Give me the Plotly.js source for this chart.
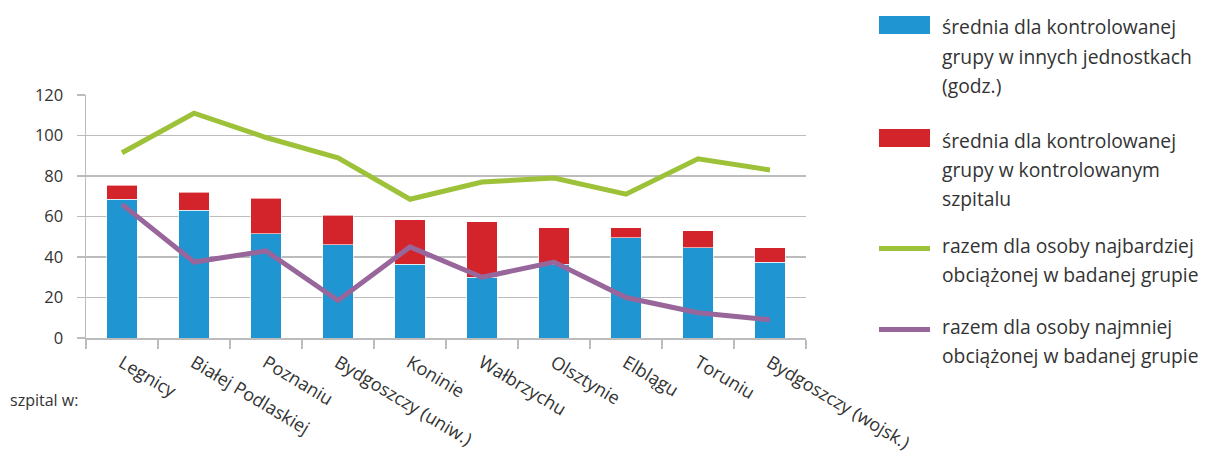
<!DOCTYPE html>
<html>
<head>
<meta charset="utf-8">
<script src="https://cdn.plot.ly/plotly-3.0.1.min.js"></script>
<style>html,body{margin:0;padding:0;background:#fff;}#chart{width:1207px;height:459px;}</style>
</head>
<body>
<div id="chart"></div>
<script>
// ---- data ----
var categories = ["Legnicy", "Białej Podlaskiej", "Poznaniu", "Bydgoszczy (uniw.)", "Koninie",
                  "Wałbrzychu", "Olsztynie", "Elblągu", "Toruniu", "Bydgoszczy (wojsk.)"];
var avgOtherUnits = [68.5, 63, 51.5, 46, 36.5, 30, 36.5, 49.5, 44.5, 37.5];
var avgThisHospital = [7, 9, 17.5, 14.5, 22, 27.5, 18, 5, 8.5, 7];
var maxLoaded = [91.5, 111, 99, 89, 68.5, 77, 79, 71, 88.5, 83];
var minLoaded = [66, 37.5, 43, 18.5, 45, 30, 37.5, 20, 12.5, 9];
var yTicks = [0, 20, 40, 60, 80, 100, 120];

var seriesNames = [
  "średnia dla kontrolowanej<br>grupy w innych jednostkach<br>(godz.)",
  "średnia dla kontrolowanej<br>grupy w kontrolowanym<br>szpitalu",
  "razem dla osoby najbardziej<br>obciążonej w badanej grupie",
  "razem dla osoby najmniej<br>obciążonej w badanej grupie"
];
var colors = ["#1f95d2", "#d3242b", "#9dc23a", "#98669b"];
var xPrefix = "szpital w:";

// ---- layout geometry (pixels) ----
var W = 1207, H = 459;
var PL = 86, PR = 806, PT = 95, PB = 338;
function px(x) { return (x - PL) / (PR - PL); }
function py(y) { return (PB - y) / (PB - PT); }

var fontFam = "'Open Sans', 'Noto Sans', sans-serif";
var textColor = "#333333";
var gridColor = "#bcbcbc";

var traces = [
  {type: "bar", x: categories, y: avgOtherUnits, name: seriesNames[0], width: 0.42,
   marker: {color: colors[0], line: {color: "rgba(255,255,255,0.6)", width: 1}}, hoverinfo: "y"},
  {type: "bar", x: categories, y: avgThisHospital, name: seriesNames[1], width: 0.42,
   marker: {color: colors[1], line: {color: "rgba(255,255,255,0.6)", width: 1}}, hoverinfo: "y"},
  {type: "scatter", mode: "lines", x: categories, y: maxLoaded, name: seriesNames[2],
   line: {color: colors[2], width: 5}},
  {type: "scatter", mode: "lines", x: categories, y: minLoaded, name: seriesNames[3],
   line: {color: colors[3], width: 5}}
];

// ---- custom legend (swatches + text) ----
var shapes = [];
var annotations = [];
var legendItems = [
  {kind: "box", top: 16, bottom: 34, firstBaseline: 34},
  {kind: "box", top: 129, bottom: 147, firstBaseline: 147},
  {kind: "line", mid: 248.5, firstBaseline: 252},
  {kind: "line", mid: 329.5, firstBaseline: 333}
];
var legFont = 19.3, legLine = 29.3;
legendItems.forEach(function (it, i) {
  if (it.kind === "box") {
    shapes.push({type: "rect", xref: "paper", yref: "paper",
      x0: px(879), x1: px(930), y0: py(it.bottom), y1: py(it.top),
      fillcolor: colors[i], line: {width: 0}});
  } else {
    shapes.push({type: "line", xref: "paper", yref: "paper",
      x0: px(879), x1: px(930), y0: py(it.mid), y1: py(it.mid),
      line: {color: colors[i], width: 5}});
  }
  var lines = seriesNames[i].split("<br>");
  lines.forEach(function (t, k) {
    var base = it.firstBaseline + k * legLine;
    annotations.push({xref: "paper", yref: "paper", x: px(940), y: py(base - 7),
      xanchor: "left", yanchor: "middle", showarrow: false, text: t,
      font: {family: fontFam, size: legFont, color: textColor}});
  });
});
annotations.push({xref: "paper", yref: "paper", x: px(8), y: py(400),
  xanchor: "left", yanchor: "middle", showarrow: false, text: xPrefix,
  font: {family: fontFam, size: 16, color: textColor}});

var layout = {
  width: W, height: H,
  margin: {l: PL, r: W - PR, t: PT, b: H - PB, pad: 0},
  paper_bgcolor: "#ffffff", plot_bgcolor: "#ffffff",
  barmode: "stack",
  showlegend: false,
  font: {family: fontFam, color: textColor},
  xaxis: {
    type: "category", range: [-0.5, categories.length - 0.5],
    tickson: "boundaries", ticks: "outside", ticklen: 9, tickwidth: 1.5, tickcolor: gridColor,
    showline: true, linecolor: gridColor, linewidth: 1.5,
    showgrid: false, zeroline: false,
    tickangle: 31, ticklabelstandoff: 6,
    tickfont: {family: fontFam, size: 18, color: textColor},
    fixedrange: true
  },
  yaxis: {
    range: [0, 120], tickvals: yTicks, ticktext: yTicks.map(String),
    ticks: "outside", ticklen: 8, tickwidth: 1.5, tickcolor: gridColor,
    showline: true, linecolor: gridColor, linewidth: 1.5,
    showgrid: true, gridcolor: gridColor, gridwidth: 1.5,
    zeroline: false, ticklabelstandoff: 10,
    tickfont: {family: fontFam, size: 16.5, color: textColor},
    fixedrange: true
  },
  shapes: shapes,
  annotations: annotations
};

Plotly.newPlot("chart", traces, layout, {displayModeBar: false, staticPlot: true});
</script>
</body>
</html>
